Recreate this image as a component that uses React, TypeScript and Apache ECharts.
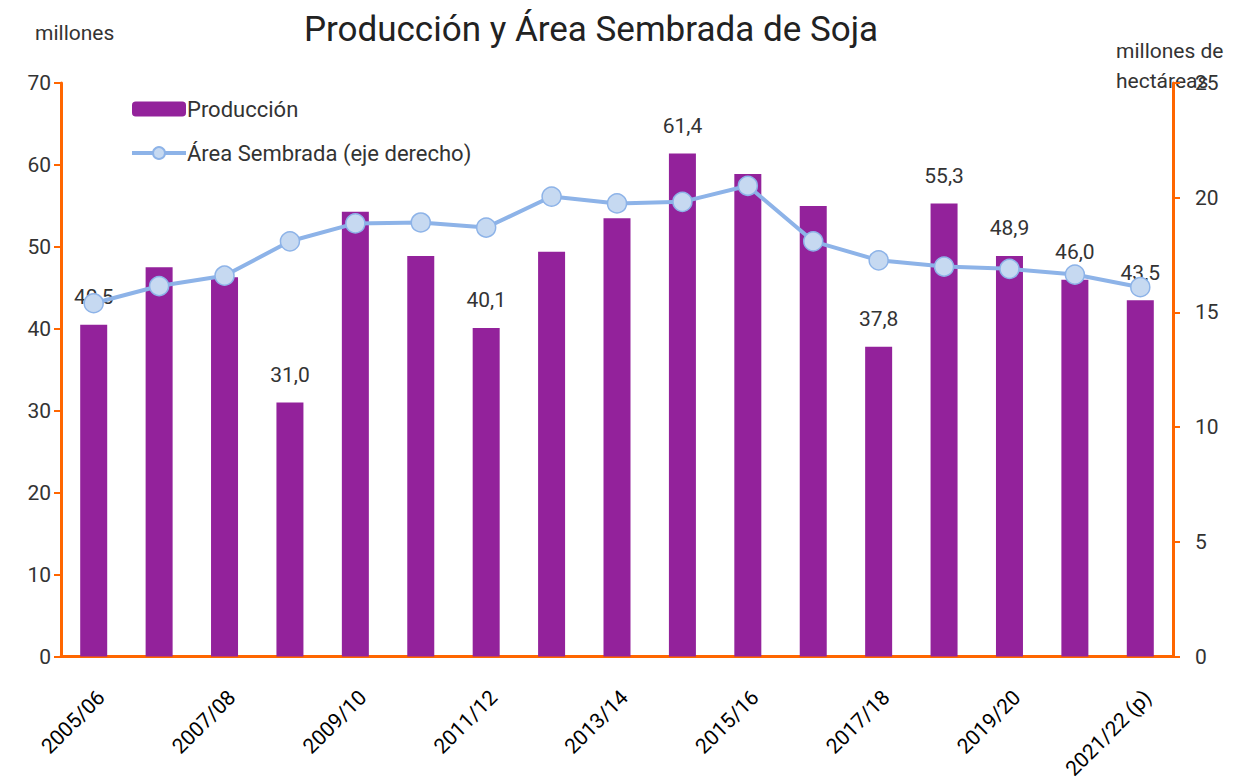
import React, { useEffect, useRef } from "react";
import * as echarts from "echarts";

const categories = [
  "2005/06", "2006/07", "2007/08", "2008/09", "2009/10", "2010/11", "2011/12",
  "2012/13", "2013/14", "2014/15", "2015/16", "2016/17", "2017/18", "2018/19",
  "2019/20", "2020/21", "2021/22 (p)",
];
const produccion = [40.5, 47.5, 46.3, 31.0, 54.3, 48.9, 40.1, 49.4, 53.5, 61.4, 58.9, 55.0, 37.8, 55.3, 48.9, 46.0, 43.5];
const area = [15.4, 16.15, 16.6, 18.1, 18.88, 18.92, 18.7, 20.05, 19.75, 19.82, 20.52, 18.1, 17.27, 17.0, 16.9, 16.65, 16.1];
const labeledIdx = [0, 3, 6, 9, 12, 13, 14, 15, 16];
const leftTicks = { min: 0, max: 70, interval: 10 };
const rightTicks = { min: 0, max: 25, interval: 5 };

const AXIS = "#FF6600";
const BAR = "#93229B";
const LINE = "#8DB3E8";
const DOT = "#C6D9F1";
const FONT = "Roboto, 'Open Sans', sans-serif";

export default function App() {
  const ref = useRef<HTMLDivElement>(null);
  useEffect(() => {
    if (!ref.current) return;
    const chart = echarts.init(ref.current, undefined, { renderer: "svg" });
    const fmt = (v: number) => v.toFixed(1).replace(".", ",");
    chart.setOption({
      animation: false,
      textStyle: { fontFamily: FONT },
      title: {
        text: "Producción y Área Sembrada de Soja",
        left: 586,
        textAlign: "center",
        top: 7,
        textStyle: { fontSize: 35, fontWeight: "normal", color: "#222", fontFamily: FONT },
      },
      legend: {
        orient: "vertical",
        left: 125,
        top: 93,
        itemWidth: 54,
        itemHeight: 15,
        itemGap: 22,
        textStyle: { fontSize: 22, color: "#333", padding: [0, 0, 0, -4] },
        data: [
          { name: "Producción" },
          { name: "Área Sembrada (eje derecho)", lineStyle: { width: 4 } },
        ],
      },
      graphic: [
        { type: "text", left: 35, top: 22, style: { text: "millones", fontSize: 21, fill: "#333", fontFamily: FONT } },
        { type: "text", left: 1116, top: 36, style: { text: "millones de\nhectáreas", fontSize: 21, lineHeight: 30, fill: "#333", fontFamily: FONT, align: "center", x: 58 } },
      ],
      grid: { left: 61, right: 64, top: 83, bottom: 123, containLabel: false },
      xAxis: {
        type: "category",
        data: categories,
        axisLine: { lineStyle: { color: AXIS, width: 3 } },
        axisTick: { interval: 0, length: 7, lineStyle: { color: AXIS, width: 2 } },
        axisLabel: { interval: 1, rotate: 45, fontSize: 21, color: "#000", margin: 30, verticalAlign: "top", fontFamily: FONT },
      },
      yAxis: [
        {
          type: "value",
          ...leftTicks,
          splitLine: { show: false },
          axisLine: { show: true, lineStyle: { color: AXIS, width: 3 } },
          axisTick: { show: true, length: 7, lineStyle: { color: AXIS, width: 2 } },
          axisLabel: { fontSize: 21, color: "#333", margin: 10, fontFamily: FONT },
        },
        {
          type: "value",
          ...rightTicks,
          splitLine: { show: false },
          axisLine: { show: true, lineStyle: { color: AXIS, width: 3 } },
          axisTick: { show: true, length: 7, lineStyle: { color: AXIS, width: 2 } },
          axisLabel: { fontSize: 21, color: "#333", margin: 22, fontFamily: FONT },
        },
      ],
      series: [
        {
          name: "Producción",
          type: "bar",
          yAxisIndex: 0,
          barWidth: 27,
          itemStyle: { color: BAR },
          data: produccion.map((v, i) => ({
            value: v,
            label: {
              show: labeledIdx.includes(i),
              position: "top",
              distance: 17,
              fontSize: 21,
              color: "#333",
              formatter: () => fmt(v),
            },
          })),
        },
        {
          name: "Área Sembrada (eje derecho)",
          type: "line",
          yAxisIndex: 1,
          data: area,
          symbol: "circle",
          symbolSize: 19,
          lineStyle: { color: LINE, width: 4 },
          itemStyle: { color: DOT, borderColor: LINE, borderWidth: 1.5 },
          z: 3,
        },
      ],
    });
    return () => chart.dispose();
  }, []);
  return <div ref={ref} style={{ width: 1237, height: 782, position: "absolute", left: 0, top: 0 }} />;
}
